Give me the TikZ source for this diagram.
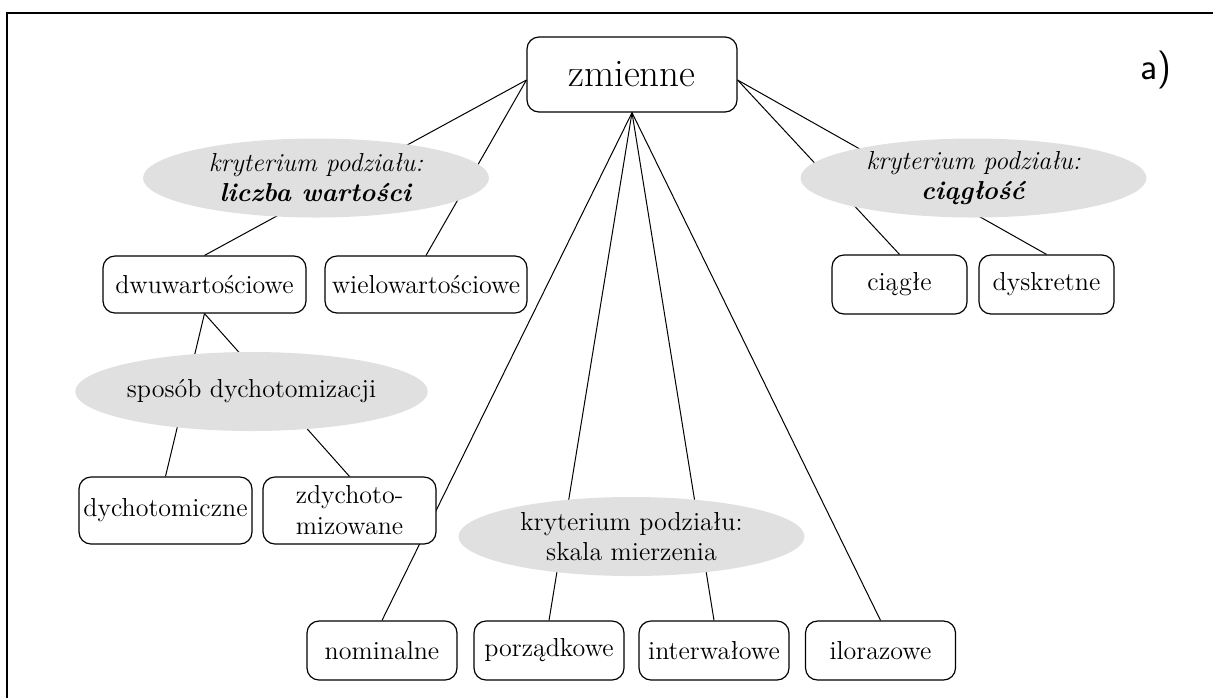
\documentclass[tikz,border=0pt]{standalone}
\usetikzlibrary{shapes.geometric,backgrounds}
\definecolor{ellgray}{RGB}{224,224,224}
\begin{document}
\begin{tikzpicture}[x=0.5pt,y=-0.5pt,
  box/.style={draw,rounded corners=6pt,fill=white,line width=0.6pt,inner sep=1pt,align=center,font=\fontsize{13}{15.5}\selectfont},
  crit/.style={ellipse,fill=ellgray,inner sep=0pt,minimum width=173pt,minimum height=39.5pt,align=center,font=\fontsize{13}{15}\selectfont},
  link/.style={line width=0.5pt}]
  \useasboundingbox (0,0) rectangle (1213,698);
  \draw[line width=0.7pt] (1213,13) -- (7,13) -- (7,698);
  \node[box,minimum width=105pt,minimum height=37.5pt,font=\fontsize{19.5}{23}\selectfont] (z) at (632,74.5) {zmienne};
  \node[font=\sffamily\fontsize{19}{22}\selectfont] (lit) at (1156,70) {a)};
  \node[crit] (k1) at (316,178) {\textit{kryterium podziału:}\\\textbf{\textit{liczba wartości}}};
  \node[crit] (k2) at (973.5,178) {\textit{kryterium podziału:}\\\textbf{\textit{ciągłość}}};
  \node[crit] (k3) at (251.5,391.5) {sposób dychotomizacji};
  \node[crit] (k4) at (631.5,536.5) {kryterium podziału:\\skala mierzenia};
  \node[box,minimum width=101.5pt,minimum height=28.5pt] (dwu) at (204.5,284.5) {dwuwartościowe};
  \node[box,minimum width=101pt,minimum height=28.5pt] (wiel) at (426,284.5) {wielowartościowe};
  \node[box,minimum width=67.5pt,minimum height=29.5pt] (ciag) at (899.5,284.5) {ciągłe};
  \node[box,minimum width=67.5pt,minimum height=29.5pt] (dysk) at (1046.5,284.5) {dyskretne};
  \node[box,minimum width=86.5pt,minimum height=33.5pt] (dych) at (165.5,510.5) {dychotomiczne};
  \node[box,minimum width=86.5pt,minimum height=33.5pt] (zdych) at (349.5,510.5) {zdychoto-\\mizowane};
  \node[box,minimum width=75pt,minimum height=29.5pt] (nom) at (382,650.5) {nominalne};
  \node[box,minimum width=75pt,minimum height=29.5pt] (por) at (549,650.5) {porządkowe};
  \node[box,minimum width=75pt,minimum height=29.5pt] (int) at (714,650.5) {interwałowe};
  \node[box,minimum width=75pt,minimum height=29.5pt] (ilo) at (880.5,650.5) {ilorazowe};
  \begin{pgfonlayer}{background}
    \draw[link] (z.183) -- (dwu.north);
    \draw[link] (z.183) -- (wiel.north);
    \draw[link] (z.357) -- (ciag.north);
    \draw[link] (z.357) -- (dysk.north);
    \draw[link] (dwu.south) -- (dych.north);
    \draw[link] (dwu.south) -- (zdych.north);
    \draw[link] (z.south) -- (nom.north);
    \draw[link] (z.south) -- (por.north);
    \draw[link] (z.south) -- (int.north);
    \draw[link] (z.south) -- (ilo.north);
  \end{pgfonlayer}
\end{tikzpicture}
\end{document}
